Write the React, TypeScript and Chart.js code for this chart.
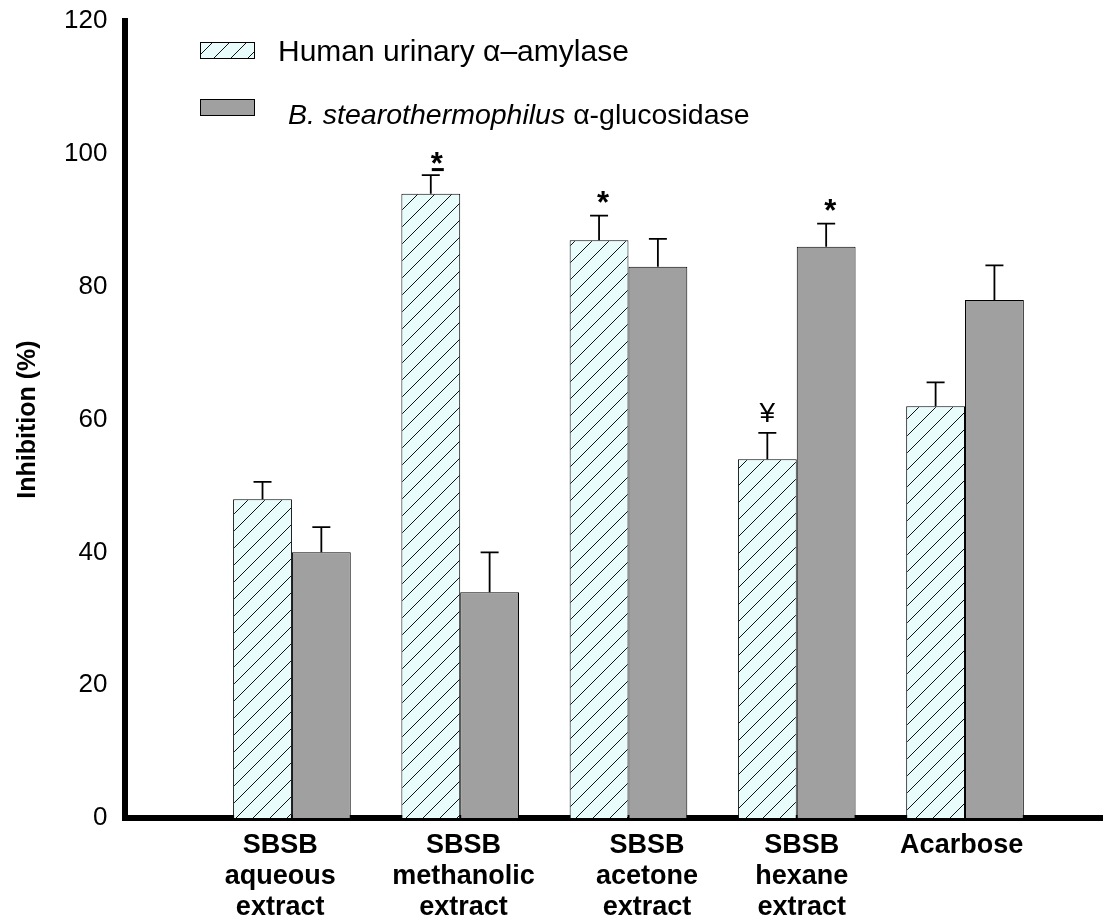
import React, { useEffect, useRef } from 'react';
import { Chart, registerables } from 'chart.js';

Chart.register(...registerables);

// ---- data ----
const categories: string[][] = [
  ['SBSB', 'aqueous', 'extract'],
  ['SBSB', 'methanolic', 'extract'],
  ['SBSB', 'acetone', 'extract'],
  ['SBSB', 'hexane', 'extract'],
  ['Acarbose'],
];
const amylase = [48, 94, 87, 54, 62];
const amylaseErr = [2.6, 2.8, 3.7, 4.0, 3.6];
const glucosidase = [40, 34, 83, 86, 78];
const glucosidaseErr = [3.8, 6.0, 4.2, 3.5, 5.2];
const yTickValues = [0, 20, 40, 60, 80, 100, 120];
const amylaseName = 'Human urinary α–amylase';
const glucosidaseItalic = 'B. stearothermophilus';
const glucosidasePlain = ' α-glucosidase';
const yTitle = 'Inhibition (%)';
const annotations = [
  { series: 0, index: 1, text: '*', underline: true },
  { series: 0, index: 2, text: '*', underline: false },
  { series: 0, index: 3, text: '¥', underline: false },
  { series: 1, index: 3, text: '*', underline: false },
];

const FONT = '"Liberation Sans", Arial, Helvetica, sans-serif';

function makeHatch(): CanvasPattern | string {
  const s = 17;
  const c = document.createElement('canvas');
  c.width = s;
  c.height = s;
  const g = c.getContext('2d');
  if (!g) return '#e6fafa';
  g.fillStyle = '#e8fcfc';
  g.fillRect(0, 0, s, s);
  g.strokeStyle = '#111';
  g.lineWidth = 1;
  g.beginPath();
  g.moveTo(-2, s + 2);
  g.lineTo(s + 2, -2);
  g.moveTo(-2, 2);
  g.lineTo(2, -2);
  g.moveTo(s - 2, s + 2);
  g.lineTo(s + 2, s - 2);
  g.stroke();
  return g.createPattern(c, 'repeat') || '#e6fafa';
}

export default function App() {
  const ref = useRef<HTMLCanvasElement | null>(null);

  useEffect(() => {
    const canvas = ref.current;
    if (!canvas) return;
    const hatch = makeHatch();
    const values = [amylase, glucosidase];
    const errs = [amylaseErr, glucosidaseErr];
    const labelShift = [-0.07, 0.02, 0.11, 0.03, -0.02];

    const extrasPlugin = {
      id: 'extras',
      afterDatasetsDraw(chart: any) {
        const ctx = chart.ctx as CanvasRenderingContext2D;
        const y = chart.scales.y;
        ctx.save();
        // error bars
        ctx.strokeStyle = '#000';
        ctx.lineWidth = 1.8;
        values.forEach((vals, di) => {
          const meta = chart.getDatasetMeta(di);
          meta.data.forEach((bar: any, i: number) => {
            const top = y.getPixelForValue(vals[i] + errs[di][i]);
            ctx.beginPath();
            ctx.moveTo(bar.x, bar.y);
            ctx.lineTo(bar.x, top);
            ctx.moveTo(bar.x - 9, top);
            ctx.lineTo(bar.x + 9, top);
            ctx.stroke();
          });
        });
        // significance marks
        ctx.fillStyle = '#000';
        ctx.textAlign = 'center';
        ctx.textBaseline = 'alphabetic';
        annotations.forEach((a) => {
          const bar = chart.getDatasetMeta(a.series).data[a.index];
          const top = y.getPixelForValue(values[a.series][a.index] + errs[a.series][a.index]);
          if (a.text === '¥') {
            ctx.font = `28px ${FONT}`;
            ctx.fillText(a.text, bar.x, top - 11);
          } else if (a.underline) {
            ctx.font = `bold 31px ${FONT}`;
            ctx.fillText(a.text, bar.x + 6, top - 1);
            ctx.fillRect(bar.x + 1, top - 7, 12, 3);
          } else {
            ctx.font = `bold 31px ${FONT}`;
            ctx.fillText(a.text, bar.x + 4, top - 3);
          }
        });
        // legend
        ctx.lineWidth = 1;
        ctx.strokeStyle = '#000';
        ctx.fillStyle = hatch as any;
        ctx.fillRect(200, 42, 54, 16);
        ctx.strokeRect(200.5, 42.5, 54, 16);
        ctx.fillStyle = '#a0a0a0';
        ctx.fillRect(200, 99, 54, 16);
        ctx.strokeRect(200.5, 99.5, 54, 16);
        ctx.fillStyle = '#000';
        ctx.textAlign = 'left';
        ctx.textBaseline = 'middle';
        ctx.font = `30px ${FONT}`;
        ctx.fillText(amylaseName, 278, 53);
        ctx.font = `italic 28.5px ${FONT}`;
        ctx.fillText(glucosidaseItalic, 288, 116);
        const w = ctx.measureText(glucosidaseItalic).width;
        ctx.font = `28.5px ${FONT}`;
        ctx.fillText(glucosidasePlain, 288 + w, 116);
        ctx.restore();
      },
    };

    const chart = new Chart(canvas, {
      type: 'bar',
      data: {
        datasets: [
          {
            label: amylaseName,
            data: amylase.map((v, i) => ({ x: i, y: v })),
            backgroundColor: hatch as any,
            borderColor: '#000',
            borderWidth: 1,
            categoryPercentage: 0.76,
            barPercentage: 1,
          },
          {
            label: glucosidaseItalic + glucosidasePlain,
            data: glucosidase.map((v, i) => ({ x: i, y: v })),
            backgroundColor: '#a0a0a0',
            borderColor: '#000',
            borderWidth: 1,
            categoryPercentage: 0.76,
            barPercentage: 1,
          },
        ],
      },
      options: {
        responsive: false,
        animation: false,
        layout: { padding: { top: 21, left: 0, right: 0, bottom: 0 } },
        plugins: { legend: { display: false }, tooltip: { enabled: false } },
        scales: {
          x: {
            type: 'linear',
            min: -0.995,
            max: 4.82,
            offset: false,
            grid: { display: false, drawTicks: false },
            border: { display: true, color: '#000', width: 6 },
            afterFit(scale: any) {
              scale.height = 103;
              scale.paddingLeft = 0;
              scale.paddingRight = 0;
            },
            afterBuildTicks(scale: any) {
              scale.ticks = categories.map((_, i) => ({ value: i + labelShift[i] }));
            },
            ticks: {
              autoSkip: false,
              maxRotation: 0,
              minRotation: 0,
              padding: 12,
              color: '#000',
              font: { family: FONT, size: 27, weight: 'bold', lineHeight: 1.15 },
              callback: (_v: any, index: number) => categories[index],
            },
          },
          y: {
            min: 0,
            max: 120,
            grid: { display: false, drawTicks: false },
            border: { display: true, color: '#000', width: 6 },
            afterFit(scale: any) {
              scale.width = 124.5;
              scale.paddingTop = 0;
              scale.paddingBottom = 0;
            },
            afterBuildTicks(scale: any) {
              scale.ticks = yTickValues.map((v) => ({ value: v }));
            },
            ticks: {
              padding: 17,
              color: '#000',
              font: { family: FONT, size: 26 },
            },
            title: {
              display: true,
              text: yTitle,
              color: '#000',
              padding: { top: 13, bottom: 0 },
              font: { family: FONT, size: 25, weight: 'bold' },
            },
          },
        },
      },
      plugins: [extrasPlugin],
    } as any);

    return () => chart.destroy();
  }, []);

  return (
    <div style={{ position: 'absolute', left: 0, top: 0, width: 1103, height: 921, background: '#fff' }}>
      <canvas ref={ref} width={1103} height={921} style={{ display: 'block' }} />
    </div>
  );
}
